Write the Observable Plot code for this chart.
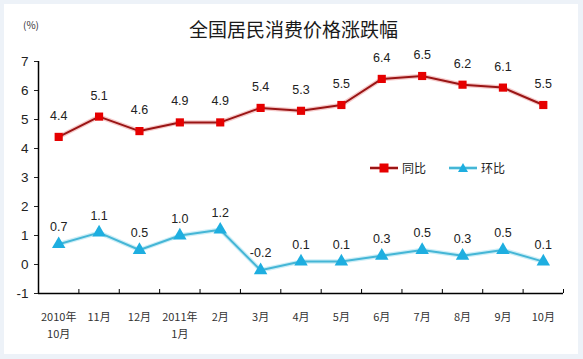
<!DOCTYPE html>
<html><head><meta charset="utf-8">
<script src="https://cdn.jsdelivr.net/npm/d3@7"></script>
<script src="https://cdn.jsdelivr.net/npm/@observablehq/plot@0.6"></script>
<style>
body{margin:0;font-family:"Liberation Sans",Arial,sans-serif;}
#wrap{position:relative;width:583px;height:359px;background:#edf2f8;overflow:hidden;}
#inner{position:absolute;left:4px;top:4px;width:574px;height:350px;background:#fff;}
#title{position:absolute;left:0;top:16px;width:583px;text-align:center;font-family:"Noto Sans CJK SC",sans-serif;font-size:19px;line-height:26px;color:#1a1a1a;padding-left:2px;}
#unit{position:absolute;left:23px;top:17px;font-size:10px;color:#333;font-family:"Noto Sans CJK SC",sans-serif;}
#chart{position:absolute;left:0;top:45px;}
#legend{position:absolute;left:369px;top:159px;font-family:"Noto Sans CJK SC",sans-serif;font-size:12px;color:#222;display:flex;align-items:center;}
#legend span{display:inline-flex;align-items:center;margin-right:22px;}
#legend svg{margin-right:3px;}
</style></head>
<body>
<div id="wrap"><div id="inner"></div>
<div id="title">全国居民消费价格涨跌幅</div>
<div id="unit">(%)</div>
<div id="chart"></div>
<div id="legend">
<span><svg width="30" height="12"><line x1="1" y1="6" x2="29" y2="6" stroke="#f2b8b8" stroke-width="4"/><line x1="1" y1="6" x2="29" y2="6" stroke="#9a1515" stroke-width="2"/><rect x="10.5" y="1.5" width="9" height="9" fill="#e60000"/></svg>同比</span>
<span><svg width="30" height="12"><line x1="1" y1="6" x2="29" y2="6" stroke="#bfeaf5" stroke-width="4"/><line x1="1" y1="6" x2="29" y2="6" stroke="#45b6d6" stroke-width="2"/><path d="M15,1 L20,10 L10,10Z" fill="#1eaee0"/></svg>环比</span>
</div>
</div>
<script>
const months = ["2010年\n10月","11月","12月","2011年\n1月","2月","3月","4月","5月","6月","7月","8月","9月","10月"];
const yoy = [4.4,5.1,4.6,4.9,4.9,5.4,5.3,5.5,6.4,6.5,6.2,6.1,5.5];
const mom = [0.7,1.1,0.5,1.0,1.2,-0.2,0.1,0.1,0.3,0.5,0.3,0.5,0.1];
const yTicks = [-1,0,1,2,3,4,5,6,7];

const rowsY = months.map((m,i)=>({i:i+0.5, v:yoy[i]}));
const rowsM = months.map((m,i)=>({i:i+0.5, v:mom[i]}));
const bounds = d3.range(0, months.length+1);

const chart = Plot.plot({
  width:583, height:314,
  marginTop:16, marginBottom:66, marginLeft:38, marginRight:20,
  x:{type:"linear", domain:[0, months.length]},
  y:{domain:[-1,7]},
  style:{background:"transparent", overflow:"visible"},
  marks:[
    Plot.axisY({ticks:yTicks, tickSize:4, tickPadding:6, tickFormat:d=>String(d), fontSize:13.5, fontFamily:"Liberation Sans, Arial, sans-serif", color:"#222", label:null}),
    Plot.axisX({ticks:bounds, tickSize:-4, tickFormat:()=>"", label:null, stroke:"#000"}),
    Plot.axisX({ticks:months.map((m,i)=>i+0.5), tickSize:0, tickPadding:16, tickFormat:d=>months[Math.floor(d)], fontSize:11, fontFamily:"Noto Sans CJK SC, sans-serif", fill:"#333", label:null, lineHeight:1.5}),
    Plot.ruleY([-1], {stroke:"#000", strokeWidth:1.5}),
    Plot.ruleX([0], {y1:-1, y2:7, stroke:"#000", strokeWidth:1.5}),
    Plot.line(rowsY, {x:"i", y:"v", stroke:"#f6caca", strokeWidth:4.5}),
    Plot.line(rowsY, {x:"i", y:"v", stroke:"#9a1515", strokeWidth:2}),
    Plot.dot(rowsY, {x:"i", y:"v", symbol:"square", r:4.6, fill:"#e60000", stroke:"none"}),
    Plot.text(rowsY, {x:"i", y:"v", text:d=>d.v.toFixed(1), dy:-21, fontSize:12.5, fill:"#222", fontFamily:"Liberation Sans, Arial, sans-serif"}),
    Plot.line(rowsM, {x:"i", y:"v", stroke:"#cdeef7", strokeWidth:4.5}),
    Plot.line(rowsM, {x:"i", y:"v", stroke:"#45b6d6", strokeWidth:2}),
    Plot.dot(rowsM, {x:"i", y:"v", symbol:"triangle", r:5, fill:"#1eaee0", stroke:"none"}),
    Plot.text(rowsM, {x:"i", y:"v", text:d=>d.v.toFixed(1), dy:-17, fontSize:12.5, fill:"#222", fontFamily:"Liberation Sans, Arial, sans-serif"})
  ]
});
document.getElementById("chart").appendChild(chart);
</script>
</body></html>
